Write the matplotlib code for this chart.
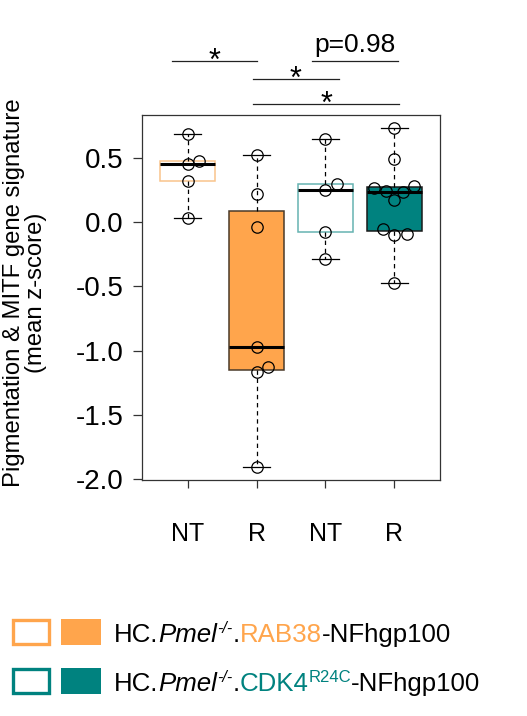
import numpy as np
import matplotlib
matplotlib.use("Agg")
import matplotlib.pyplot as plt
from matplotlib.patches import Rectangle

plt.rcParams.update({
    "font.family": ["Liberation Sans", "DejaVu Sans"],
    "axes.linewidth": 0.9,
})

ORANGE = "#FFA54C"
ORANGE_LIGHT = "#F9C48C"
TEAL = "#00827F"
TEAL_LIGHT = "#66B3B1"

# data (mean z-score per sample)
groups = ["NT", "R", "NT", "R"]
nt_rab38 = [0.69, 0.48, 0.45, 0.32, 0.03]
r_rab38 = [0.52, 0.22, -0.04, -0.97, -1.13, -1.17, -1.91]
nt_cdk4 = [0.65, 0.30, 0.25, -0.08, -0.29]
r_cdk4 = [0.73, 0.49, 0.27, 0.285, 0.24, 0.235, 0.17, -0.05, -0.10, -0.09, -0.47]
series = [nt_rab38, r_rab38, nt_cdk4, r_cdk4]

# beeswarm-like horizontal offsets of the points
jitter = [
    [0, 0.17, 0, 0, 0],
    [0, 0, 0, 0, 0.17, 0, 0],
    [0, 0.16, 0, 0, 0],
    [0, 0, -0.29, 0.29, -0.12, 0.13, 0, -0.16, 0, 0.18, 0],
]

# significance annotations: (x0, x1, y, label)
sig = [
    (0.77, 2.01, 1.258, "*"),
    (2.81, 4.05, 1.258, "p=0.98"),
    (1.95, 3.19, 1.113, "*"),
    (1.95, 4.07, 0.921, "*"),
]

yticks = [0.5, 0.0, -0.5, -1.0, -1.5, -2.0]

fig = plt.figure(figsize=(5.27, 7.16), dpi=100)
ax = fig.add_axes([142 / 527, 1 - 480 / 716, 298 / 527, 365 / 716])

pos = np.arange(1, 5)
bp = ax.boxplot(series, positions=pos, widths=0.8, whis=(0, 100), patch_artist=True,
                showfliers=False)
faces = ["none", ORANGE, "none", TEAL]
edges = [ORANGE_LIGHT, "#4a3a2a", TEAL_LIGHT, "#1a1a1a"]
for b, fc, ec in zip(bp["boxes"], faces, edges):
    b.set_facecolor(fc)
    b.set_edgecolor(ec)
    b.set_linewidth(1.1)
for m in bp["medians"]:
    m.set_color("black")
    m.set_linewidth(2.2)
for w in bp["whiskers"]:
    w.set_color("black")
    w.set_linewidth(0.9)
    w.set_linestyle((0, (3.5, 3)))
for c in bp["caps"]:
    c.set_color("black")
    c.set_linewidth(0.9)

for p, vals, off in zip(pos, series, jitter):
    ax.plot(p + np.array(off), vals, "o", mfc="none", mec="black", ms=8.2, mew=0.9,
            zorder=5)

ax.set_xlim(0.34, 4.66)
ax.set_ylim(-2.008, 0.835)
ax.set_yticks(yticks)
ax.set_yticklabels([f"{v:.1f}" for v in yticks])
ax.set_xticks(pos)
ax.set_xticklabels(groups)
ax.tick_params(axis="y", labelsize=20, length=6.5, width=0.9, pad=7, color="#333333")
ax.tick_params(axis="x", labelsize=18, length=6, width=0.9, pad=24.5, color="#333333")
for s in ax.spines.values():
    s.set_color("#333333")

# two-line y label
fig.text(14 / 527, 1 - 293 / 716, "Pigmentation & MITF gene signature", rotation=90,
         ha="center", va="center", fontsize=17.2)
fig.text(36 / 527, 1 - 293 / 716, "(mean z-score)", rotation=90,
         ha="center", va="center", fontsize=17.2)

for x0, x1, y, lab in sig:
    ax.plot([x0, x1], [y, y], color="#222222", lw=0.9, clip_on=False)
    if lab == "*":
        ax.text((x0 + x1) / 2, y - 0.07, lab, ha="center", va="baseline", fontsize=22)
    else:
        ax.text((x0 + x1) / 2, y + 0.065, lab, ha="center", va="baseline", fontsize=19)

# legend drawn in pixel coordinates
lg = fig.add_axes([0, 0, 1, 1])
lg.set_xlim(0, 527)
lg.set_ylim(716, 0)
lg.axis("off")

rows = [
    (632, ORANGE, "RAB38", None),
    (681, TEAL, "CDK4", "R24C"),
]
for yc, col, gene, sup in rows:
    lg.add_patch(Rectangle((12.5, yc - 12), 36.5, 24, fill=False, ec=col, lw=2.4))
    lg.add_patch(Rectangle((61, yc - 13.2), 40, 26.4, fc=col, ec="none"))
    t0 = lg.text(114, yc + 15, "HC.", fontsize=18.6, va="bottom", ha="left")
    pieces = [("Pmel", "italic", "black", 18.6, False),
              ("-/-", "italic", "black", 11.5, True),
              (".", "normal", "black", 18.6, False),
              (gene, "normal", col, 18.6, False)]
    if sup:
        pieces.append((sup, "normal", col, 12, True))
    pieces.append(("-NFhgp100", "normal", "black", 18.6, False))
    prev = t0
    for txt, style, c, fs, is_sup in pieces:
        yfrac = 0.45 if is_sup else 0.0
        prev = lg.annotate(txt, xy=(1, yfrac), xycoords=(prev, t0), fontsize=fs,
                           style=style, color=c, va="bottom", ha="left")

fig.savefig("out.png", dpi=100)
